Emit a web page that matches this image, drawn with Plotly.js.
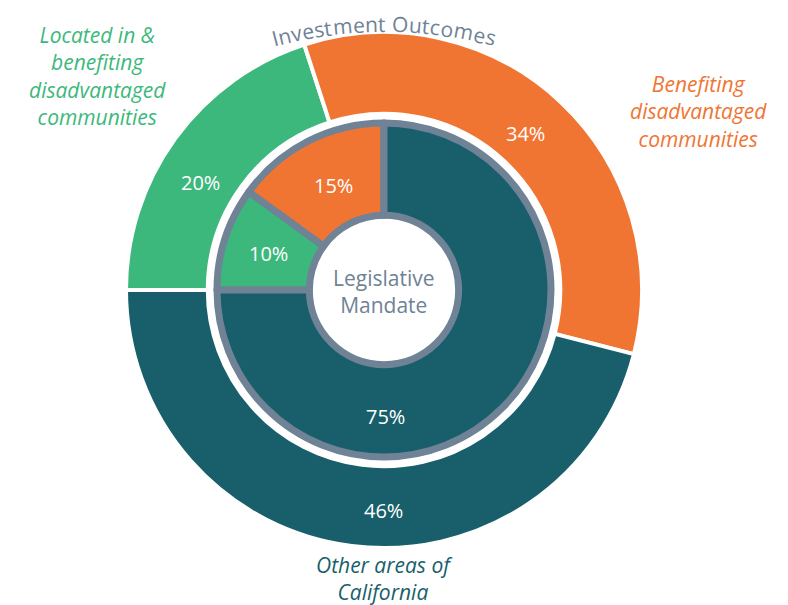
<!DOCTYPE html>
<html>
<head>
<meta charset="utf-8">
<script src="https://cdn.plot.ly/plotly-3.0.1.min.js"></script>
<style>html,body{margin:0;padding:0;background:#fff;}#chart{width:788px;height:605px;}</style>
</head>
<body>
<div id="chart"></div>
<script>
// Data
const categories = ['Located in & benefiting disadvantaged communities', 'Benefiting disadvantaged communities', 'Other areas of California'];
const outerValues = [20, 34, 46];   // Investment Outcomes
const innerValues = [10, 15, 75];   // Legislative Mandate
const ringTitles = ['Investment Outcomes', 'Legislative Mandate'];
const categoryLabels = ['Located in &<br>benefiting<br>disadvantaged<br>communities', 'Benefiting<br>disadvantaged<br>communities', 'Other areas of<br>California'];

// Style / layout
const colors = ['#3db87c', '#f07533', '#185f6b'];
const gray = '#6f8296';
const W = 788, H = 605;
const cx = 384, cy = 290;
const FONT = 'Open Sans, Lato, sans-serif';
const outerR = 258, innerR = 167;
// label positions (pixels) for percentage texts
const outerTextPos = [[200, 183], [525, 134], [383, 510]];
const innerTextPos = [[268, 253], [333, 185], [385, 416]];

function dom(r) {
  return {
    x: [(cx - r) / W, (cx + r) / W],
    y: [(H - cy - r) / H, (H - cy + r) / H]
  };
}
function px(x, y) { return {x: x / W, y: 1 - y / H}; }

const traces = [
  {
    type: 'pie',
    labels: categories,
    values: outerValues,
    sort: false,
    direction: 'clockwise',
    rotation: -90,
    hole: 0.683,
    domain: dom(outerR),
    marker: {colors: colors, line: {color: '#ffffff', width: 4}},
    textinfo: 'none',
    hoverinfo: 'label+percent',
    name: ringTitles[0]
  },
  {
    type: 'pie',
    labels: categories,
    values: innerValues,
    sort: false,
    direction: 'clockwise',
    rotation: -90,
    hole: 0.447,
    domain: dom(innerR),
    marker: {colors: colors, line: {color: gray, width: 7}},
    textinfo: 'none',
    hoverinfo: 'label+percent',
    name: ringTitles[1]
  }
];

const annotations = [];
function addAnn(text, x, y, font, extra) {
  const p = px(x, y);
  annotations.push(Object.assign({text: text, x: p.x, y: p.y, xref: 'paper', yref: 'paper',
    xanchor: 'center', yanchor: 'middle', showarrow: false, font: font}, extra || {}));
}

const pctFont = {family: FONT, size: 20, color: '#ffffff'};
const sumO = outerValues.reduce((a, b) => a + b, 0);
const sumI = innerValues.reduce((a, b) => a + b, 0);
outerValues.forEach((v, i) => addAnn(Math.round(v / sumO * 100) + '%', outerTextPos[i][0], outerTextPos[i][1], pctFont));
innerValues.forEach((v, i) => addAnn(Math.round(v / sumI * 100) + '%', innerTextPos[i][0], innerTextPos[i][1], pctFont));

addAnn(ringTitles[1].replace(' ', '<br>'), cx, 291, {family: FONT, size: 21, color: gray});
const catFont = (c) => ({family: FONT, size: 21, color: c, style: 'italic', weight: 500});
addAnn(categoryLabels[0], 97, 76, catFont(colors[0]));
addAnn(categoryLabels[1], 698, 112, catFont(colors[1]));
addAnn(categoryLabels[2], 384, 578, catFont(colors[2]));

// Curved ring title along the top
(function () {
  const title = ringTitles[0];
  const size = 21;
  const ctx = document.createElement('canvas').getContext('2d');
  ctx.font = size + 'px "Open Sans"';
  const raw = Array.from(title).map(ch => ctx.measureText(ch).width);
  const rawTotal = raw.reduce((a, b) => a + b, 0);
  const target = 226;
  const widths = raw.map(w => w * target / rawTotal);
  const R = 430, acx = 384, acy = 24 + R;
  let cum = 0;
  const start = -target / 2 / R;
  Array.from(title).forEach((ch, i) => {
    const th = start + (cum + widths[i] / 2) / R;
    cum += widths[i];
    if (ch === ' ') return;
    const x = acx + R * Math.sin(th), y = acy - R * Math.cos(th);
    addAnn(ch, x, y, {family: FONT, size: size, color: gray}, {textangle: th * 180 / Math.PI});
  });
})();

const layout = {
  width: W, height: H,
  margin: {l: 0, r: 0, t: 0, b: 0},
  showlegend: false,
  paper_bgcolor: '#ffffff',
  annotations: annotations
};

Plotly.newPlot('chart', traces, layout, {displayModeBar: false, staticPlot: true});
</script>
</body>
</html>
